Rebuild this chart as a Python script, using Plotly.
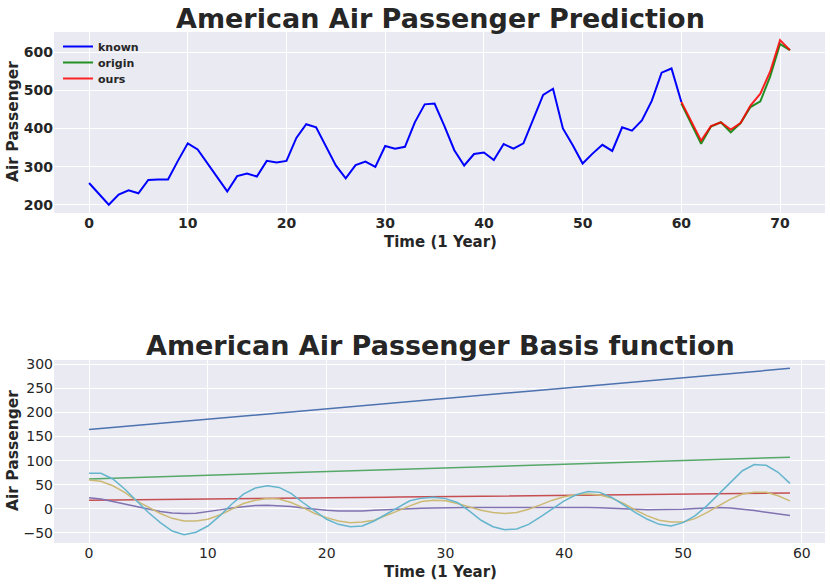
import plotly.graph_objects as go

# top panel: known series plus the two forecasts
known = [257, 229, 200, 227, 238, 230, 265, 266, 266, 315, 361, 345, 309, 270, 235, 275, 282, 274, 315, 311,
         315, 375, 411, 403, 355, 303, 269, 304, 313, 299, 354, 347, 352, 416, 463, 465, 406, 343, 303, 333,
         337, 317, 359, 347, 361, 425, 488, 504, 400, 356, 308, 334, 357, 341, 403, 394, 421, 472, 546, 557, 469]
origin = [465, 412, 360, 405, 416, 390, 414, 456, 471, 536, 621, 605]
ours = [469, 419, 368, 406, 416, 397, 414, 460, 491, 549, 631, 605]
pred_start = 60

# bottom panel: basis functions (3 trend + 3 seasonal)
trend_0 = [164.5, 166.7, 168.8, 171.0, 173.1, 175.3, 177.5, 179.6, 181.8, 183.9, 186.1, 188.3, 190.4, 192.6, 194.7,
           196.9, 199.1, 201.2, 203.4, 205.5, 207.7, 209.9, 212.0, 214.2, 216.3, 218.5, 220.7, 222.8, 225.0, 227.1,
           229.3, 231.5, 233.6, 235.8, 237.9, 240.1, 242.3, 244.4, 246.6, 248.7, 250.9, 253.1, 255.2, 257.4, 259.5,
           261.7, 263.9, 266.0, 268.2, 270.3, 272.5, 274.7, 276.8, 279.0, 281.1, 283.3, 285.5, 287.6, 289.8, 291.9]
trend_1 = [61.8, 62.6, 63.3, 64.1, 64.9, 65.7, 66.4, 67.2, 68.0, 68.7, 69.5, 70.3, 71.0, 71.8, 72.6, 73.4, 74.1,
           74.9, 75.7, 76.4, 77.2, 78.0, 78.7, 79.5, 80.3, 81.1, 81.8, 82.6, 83.4, 84.1, 84.9, 85.7, 86.4, 87.2,
           88.0, 88.8, 89.5, 90.3, 91.1, 91.8, 92.6, 93.4, 94.1, 94.9, 95.7, 96.5, 97.2, 98.0, 98.8, 99.5, 100.3,
           101.1, 101.8, 102.6, 103.4, 104.2, 104.9, 105.7, 106.5, 107.2]
trend_2 = [17.8, 18.1, 18.3, 18.6, 18.8, 19.1, 19.3, 19.6, 19.8, 20.1, 20.3, 20.6, 20.8, 21.1, 21.3, 21.6, 21.8,
           22.1, 22.3, 22.6, 22.8, 23.1, 23.3, 23.6, 23.8, 24.1, 24.3, 24.6, 24.8, 25.1, 25.3, 25.6, 25.8, 26.1,
           26.3, 26.6, 26.8, 27.1, 27.3, 27.6, 27.8, 28.1, 28.3, 28.6, 28.8, 29.1, 29.3, 29.6, 29.8, 30.1, 30.3,
           30.6, 30.8, 31.1, 31.3, 31.6, 31.8, 32.1, 32.3, 32.6]
season_0 = [22.7, 20.0, 15.0, 9.4, 3.8, -1.7, -6.0, -8.7, -10.0, -9.4, -6.6, -2.4, 1.7, 4.5, 6.6, 7.3, 6.6, 4.5,
            1.7, -1.0, -3.1, -4.5, -5.2, -4.5, -3.0, -1.7, -0.3, 0.3, 1.0, 1.7, 2.4, 2.5, 2.6, 2.7, 2.8, 2.9, 3.0,
            3.0, 3.0, 3.0, 3.0, 2.8, 2.5, 2.0, 1.5, 0.0, -1.0, -2.4, -2.4, -1.7, -1.0, 0.3, 1.7, 2.4, 1.7, -0.3,
            -3.8, -7.3, -10.8, -14.3]
season_1 = [59.7, 57.0, 47.8, 33.9, 16.4, 2.4, -10.0, -20.0, -25.5, -25.5, -22.0, -13.0, -1.0, 10.8, 17.8, 21.3,
            20.0, 13.0, 2.4, -10.0, -18.5, -25.5, -29.0, -27.6, -24.0, -15.0, -4.5, 6.0, 15.0, 17.8, 16.4, 10.8,
            3.8, -3.0, -8.0, -10.0, -8.0, -1.0, 8.0, 17.8, 24.8, 29.0, 30.4, 28.3, 22.0, 10.8, -3.0, -15.0, -24.0,
            -27.6, -27.6, -20.6, -8.0, 6.0, 20.0, 30.4, 34.0, 34.0, 27.0, 16.4]
season_2 = [73.7, 73.7, 61.8, 40.9, 16.4, -8.0, -29.0, -46.4, -54.0, -49.0, -36.0, -15.0, 9.4, 30.4, 43.0, 47.8,
            44.3, 31.8, 12.9, -4.5, -22.0, -32.5, -37.4, -36.0, -25.5, -11.5, 2.4, 16.4, 22.0, 24.0, 21.0, 13.0,
            -4.5, -24.0, -37.4, -43.6, -42.0, -32.5, -17.0, -1.0, 16.4, 29.0, 36.0, 34.0, 23.4, 8.0, -8.0, -22.0,
            -32.5, -36.0, -29.0, -15.0, 6.0, 30.4, 55.0, 79.0, 91.8, 90.4, 75.8, 52.7]
basis = [trend_0, trend_1, trend_2, season_0, season_1, season_2]
basis_colors = ['#4C72B0', '#55A868', '#C44E52', '#8172B2', '#CCB974', '#64B5CD']

W, H = 830, 586
FONT = 'DejaVu Sans'

fig = go.Figure()

# top panel, one legend box per trace so the rows can sit tight like the original
fig.add_trace(go.Scatter(x=list(range(len(known))), y=known, mode='lines', name='known', legend='legend',
                         line=dict(color='#0000FF', width=2), xaxis='x', yaxis='y'))
fig.add_trace(go.Scatter(x=list(range(pred_start, pred_start + len(origin))), y=origin, mode='lines',
                         name='origin', legend='legend2', line=dict(color='#008000', width=2), opacity=0.85,
                         xaxis='x', yaxis='y'))
fig.add_trace(go.Scatter(x=list(range(pred_start, pred_start + len(ours))), y=ours, mode='lines',
                         name='ours', legend='legend3', line=dict(color='#FF0000', width=2), opacity=0.85,
                         xaxis='x', yaxis='y'))

# bottom panel
for b, c in zip(basis, basis_colors):
    fig.add_trace(go.Scatter(x=list(range(len(b))), y=b, mode='lines', showlegend=False,
                             line=dict(color=c, width=1.5), xaxis='x2', yaxis='y2'))

def px_x(p):
    return p / W

def px_y(p):
    return 1 - p / H

grid = dict(showgrid=True, gridcolor='white', gridwidth=1, zeroline=False, showline=False, ticks='',
            automargin=False)
bold_tick = dict(family=FONT, size=14, color='#262626', weight='bold')
reg_tick = dict(family=FONT, size=14, color='#262626')
leg_font = dict(family=FONT, size=11, color='#262626', weight='bold')

def leg(top):
    return dict(x=px_x(58), y=px_y(top), xanchor='left', yanchor='top', bgcolor='rgba(0,0,0,0)',
                font=leg_font, itemwidth=30)

fig.update_layout(
    width=W, height=H,
    margin=dict(l=0, r=0, t=0, b=0),
    paper_bgcolor='white', plot_bgcolor='#EAEAF2',
    font=dict(family=FONT, color='#262626'),
    xaxis=dict(domain=[px_x(54), px_x(825)], range=[-3.55, 74.55], tickvals=[0, 10, 20, 30, 40, 50, 60, 70],
               tickfont=bold_tick, anchor='y', **grid),
    yaxis=dict(domain=[px_y(213), px_y(32)], range=[178.5, 652.5], tickvals=[200, 300, 400, 500, 600],
               tickfont=bold_tick, anchor='x', **grid),
    xaxis2=dict(domain=[px_x(54), px_x(825)], range=[-2.95, 61.95], tickvals=[0, 10, 20, 30, 40, 50, 60],
                tickfont=reg_tick, anchor='y2', **grid),
    yaxis2=dict(domain=[px_y(543), px_y(360)], range=[-71.3, 309.3],
                tickvals=[-50, 0, 50, 100, 150, 200, 250, 300], ticktext=['\u221250', '0', '50', '100', '150', '200', '250', '300'],
                tickfont=reg_tick, anchor='x2', **grid),
    legend=leg(32), legend2=leg(48), legend3=leg(64),
    showlegend=True,
)

ann = [
    dict(text='American Air Passenger Prediction', x=px_x(440), y=px_y(18), size=27),
    dict(text='American Air Passenger Basis function', x=px_x(440), y=px_y(345), size=27),
    dict(text='Time (1 Year)', x=px_x(440), y=px_y(242), size=15),
    dict(text='Time (1 Year)', x=px_x(440), y=px_y(572), size=15),
]
for a in ann:
    fig.add_annotation(text=a['text'], x=a['x'], y=a['y'], xref='paper', yref='paper', showarrow=False,
                       xanchor='center', yanchor='middle',
                       font=dict(family=FONT, size=a['size'], color='#262626', weight='bold'))
for yc in [122, 451]:
    fig.add_annotation(text='Air Passenger', x=px_x(13), y=px_y(yc), xref='paper', yref='paper', showarrow=False,
                       xanchor='center', yanchor='middle', textangle=-90,
                       font=dict(family=FONT, size=15.5, color='#262626', weight='bold'))

# drop the page's default body margin so the figure fills the window exactly
fig.write_html("out.html", config={'displayModeBar': False},
               post_script="document.body.style.margin='0px';")
